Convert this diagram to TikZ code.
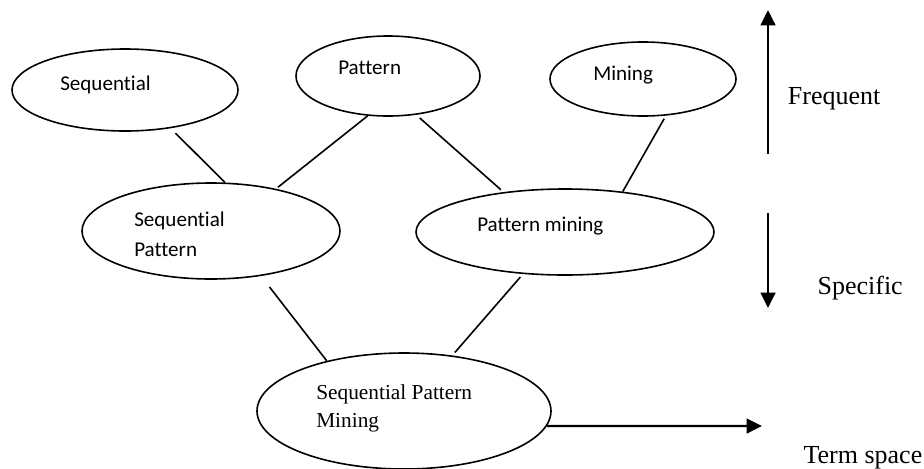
\documentclass[tikz,border=0pt]{standalone}
\usepackage{fontspec}
\setmainfont{Liberation Serif}
\newfontfamily\calib[Ligatures={NoCommon}]{Carlito}
\usetikzlibrary{arrows.meta,shapes.geometric}
\begin{document}
\begin{tikzpicture}[x=0.75pt,y=-0.75pt,
  term/.style={draw,ellipse,line width=1.2pt,inner sep=0pt},
  link/.style={line width=1.2pt},
  dirarrow/.style={line width=1.8pt,-{Triangle[length=11.5pt,width=11pt]}},
  clabel/.style={font=\calib\fontsize{15.8}{19}\selectfont,inner sep=0pt,anchor=base west},
  tlabel/.style={font=\fontsize{19.5}{23}\selectfont,inner sep=0pt,anchor=base west},
  slabel/.style={font=\fontsize{16}{19}\selectfont,inner sep=0pt,anchor=base west}]
\useasboundingbox (0,0) rectangle (924,468);
% ellipses
\node[term,minimum width=169.5pt,minimum height=61.5pt] (seq) at (125,90) {};
\node[term,minimum width=138pt,minimum height=60pt] (pat) at (388,76) {};
\node[term,minimum width=139.5pt,minimum height=55.5pt] (min) at (643,79) {};
\node[term,minimum width=193.5pt,minimum height=72pt] (sp) at (211,231) {};
\node[term,minimum width=223.5pt,minimum height=64.5pt] (pm) at (565,232) {};
\node[term,minimum width=220.5pt,minimum height=87pt] (spm) at (404,411) {};
% connectors
\draw[link,shorten <=5.1pt] (seq.-40) -- (sp.74.85);
\draw[link,shorten >=1.8pt] (pat.-117.7) -- (sp.33.1);
\draw[link,shorten <=3.5pt,shorten >=2.6pt] (pat.-54.5) -- (pm.147.8);
\draw[link,shorten <=2.7pt] (min.-58.4) -- (pm.35.1);
\draw[link,shorten <=10.4pt] (sp.-42.95) -- (spm.147.2);
\draw[link,shorten <=3pt,shorten >=2.9pt] (pm.-135.6) -- (spm.49.8);
% direction arrows
\coordinate (freqtail) at (768,154);
\coordinate (freqtip) at (768,10);
\draw[dirarrow] (freqtail) -- (freqtip);
\coordinate (spectail) at (768,213);
\coordinate (spectip) at (768,308);
\draw[dirarrow] (spectail) -- (spectip);
\coordinate (termtip) at (762,426);
\draw[dirarrow] (spm.-6) -- (termtip);
% labels
\node[clabel] (tseq) at (60,90.7) {Sequential};
\node[clabel] (tpat) at (338,74.3) {Pattern};
\node[clabel] (tmin) at (593,80.7) {Mining};
\node[clabel] (tsp1) at (134,226) {Sequential};
\node[clabel] (tsp2) at (134,256) {Pattern};
\node[clabel] (tpm) at (477,231.7) {Pattern mining};
\node[slabel] (tspm1) at (316,399) {Sequential Pattern};
\node[slabel] (tspm2) at (316,427.3) {Mining};
\node[tlabel] (tfreq) at (787.7,104) {Frequent};
\node[tlabel] (tspec) at (817.3,294.3) {Specific};
\node[tlabel] (tterm) at (803.3,463.3) {Term space};
\end{tikzpicture}
\end{document}
